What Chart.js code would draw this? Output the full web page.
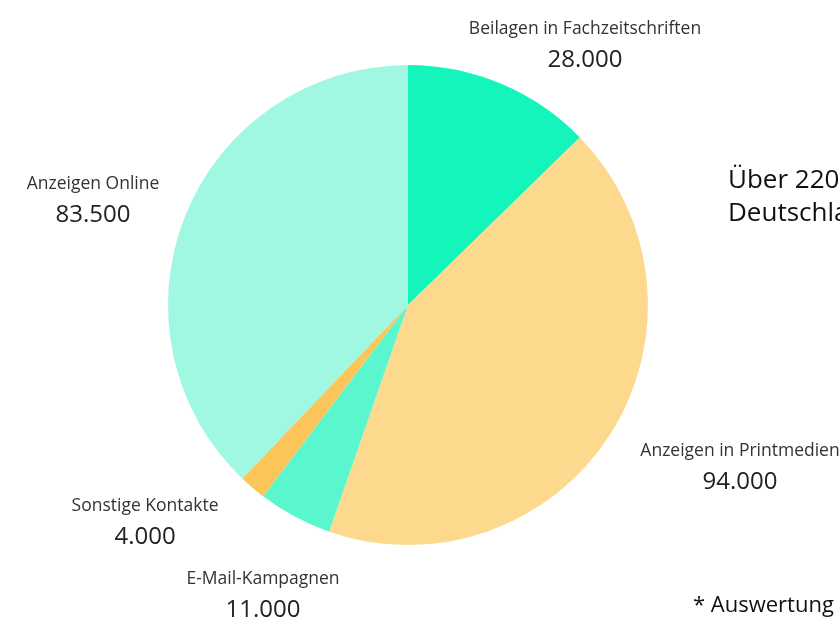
<!DOCTYPE html>
<html>
<head>
<meta charset="utf-8">
<script src="https://cdn.jsdelivr.net/npm/chart.js@4"></script>
<style>
  html, body { margin: 0; padding: 0; background: #fff; }
  #wrap { width: 840px; height: 617px; }
</style>
</head>
<body>
<div id="wrap"><canvas id="kontakteChart" width="840" height="617"></canvas></div>
<script>
// Kontakte nach Quelle
const categories = [
  "Beilagen in Fachzeitschriften",
  "Anzeigen in Printmedien",
  "E-Mail-Kampagnen",
  "Sonstige Kontakte",
  "Anzeigen Online"
];
const values = [28000, 94000, 11000, 4000, 83500];
const valueLabels = ["28.000", "94.000", "11.000", "4.000", "83.500"];
const colors = ["#14f5bb", "#fdd98e", "#5af7cf", "#fbc55a", "#a0f8e2"];

// label anchor (centre of text block) for each slice
const labelPos = [
  [585, 29],
  [740, 451],
  [263, 579],
  [145, 506],
  [93, 184]
];

const labelPlugin = {
  id: "sliceLabels",
  afterDraw(chart) {
    const ctx = chart.ctx;
    ctx.save();
    ctx.textAlign = "center";
    ctx.textBaseline = "middle";
    categories.forEach((name, i) => {
      const [x, y] = labelPos[i];
      ctx.fillStyle = "#333";
      ctx.font = "17.5px 'Open Sans'";
      ctx.fillText(name, x, y);
      ctx.fillStyle = "#222";
      ctx.font = "24px 'Open Sans'";
      ctx.fillText(valueLabels[i], x, y + 31);
    });
    // side text (cut off at canvas edge)
    ctx.textAlign = "left";
    ctx.fillStyle = "#111";
    ctx.font = "26px 'Open Sans'";
    ctx.fillText("Über 220.000 Kontakte in", 728, 181);
    ctx.fillText("Deutschland*", 728, 214);
    ctx.font = "22px 'Open Sans'";
    ctx.fillText("* Auswertung 2023", 693, 606);
    ctx.restore();
  }
};

document.addEventListener("DOMContentLoaded", () => {
  const ctx = document.getElementById("kontakteChart").getContext("2d");
  new Chart(ctx, {
    type: "pie",
    data: {
      labels: categories,
      datasets: [
        {
          data: values,
          backgroundColor: colors,
          borderWidth: 0
        }
      ]
    },
    options: {
      responsive: false,
      animation: false,
      layout: {
        padding: { left: 168, right: 192, top: 65, bottom: 72 }
      },
      plugins: {
        legend: { display: false },
        tooltip: { enabled: false }
      }
    },
    plugins: [labelPlugin]
  });
});
</script>
</body>
</html>
